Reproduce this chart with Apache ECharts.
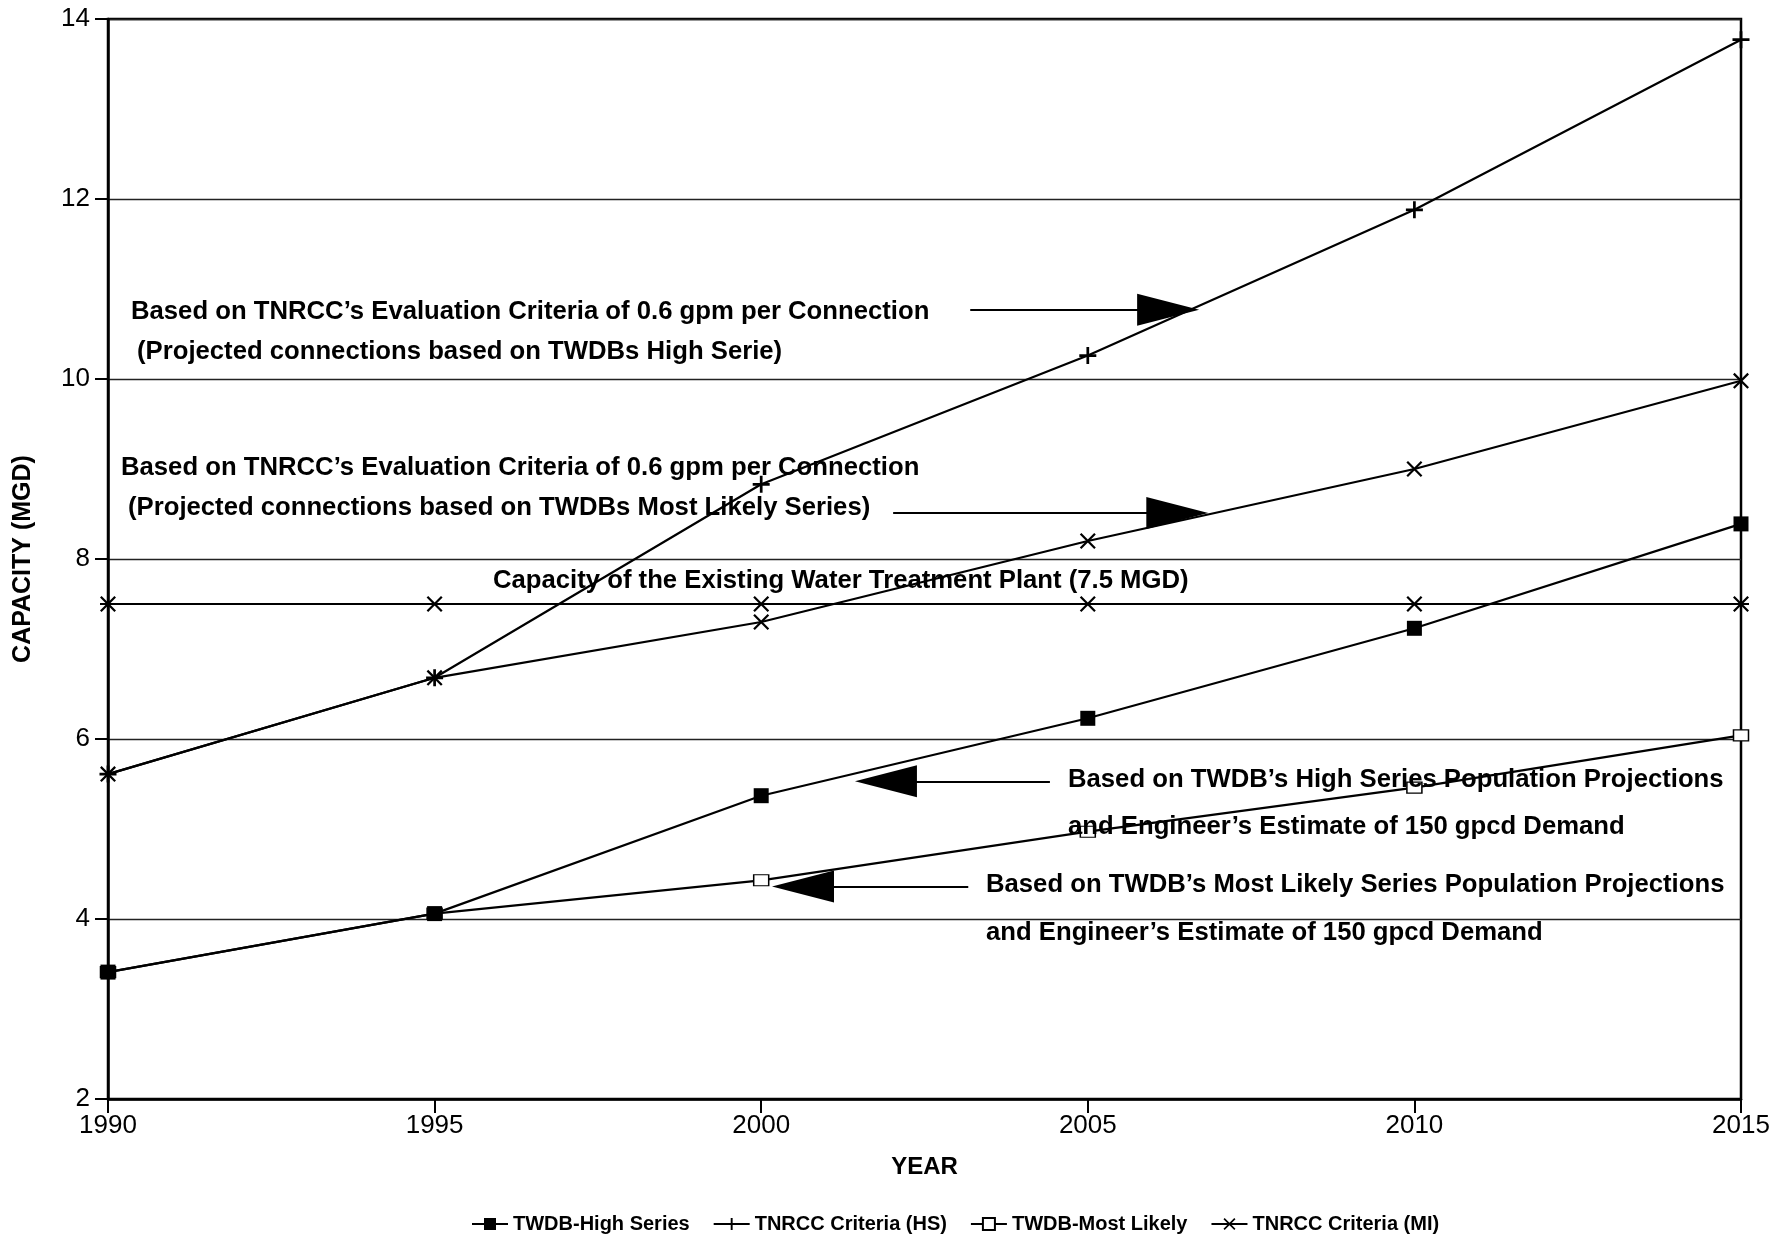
<!DOCTYPE html>
<html>
<head>
<meta charset="utf-8">
<script src="https://cdn.jsdelivr.net/npm/echarts@6/dist/echarts.min.js"></script>
<style>html,body{margin:0;padding:0;background:#fff;}#c{width:1790px;height:1235px;}</style>
</head>
<body>
<div id="c"></div>
<script>
// ---- data ----
var years = [1990, 1995, 2000, 2005, 2010, 2015];
var twdbHigh = [3.41, 4.06, 5.37, 6.23, 7.23, 8.39];
var tnrccHS = [5.61, 6.68, 8.83, 10.26, 11.88, 13.77];
var twdbML = [3.41, 4.06, 4.43, 4.97, 5.46, 6.04];
var tnrccML = [5.61, 6.68, 7.30, 8.20, 9.00, 9.98];
var existingCap = [7.5, 7.5, 7.5, 7.5, 7.5, 7.5];
var seriesNames = ['TWDB-High Series', 'TNRCC Criteria (HS)', 'TWDB-Most Likely', 'TNRCC Criteria (MI)'];
var yTicks = [2, 4, 6, 8, 10, 12, 14];
// annotation arrows: [tail, arrow-head centre] in data units
var arrows = [
  [[2003.20, 10.77], [2006.23, 10.77]],
  [[2002.02, 8.51], [2006.37, 8.51]],
  [[2004.42, 5.53], [2001.91, 5.53]],
  [[2003.17, 4.36], [2000.64, 4.36]]
];
var notes = [
  'Based on TNRCC\u2019s Evaluation Criteria of 0.6 gpm per Connection',
  '(Projected connections based on TWDBs High Serie)',
  'Based on TNRCC\u2019s Evaluation Criteria of 0.6 gpm per Connection',
  '(Projected connections based on TWDBs Most Likely Series)',
  'Capacity of the Existing Water Treatment Plant (7.5 MGD)',
  'Based on TWDB\u2019s High Series Population Projections',
  'and Engineer\u2019s Estimate of 150 gpcd Demand',
  'Based on TWDB\u2019s Most Likely Series Population Projections',
  'and Engineer\u2019s Estimate of 150 gpcd Demand'
];

function pairs(vals) { return years.map(function (y, i) { return [y, vals[i]]; }); }

var FONT = '"Liberation Sans", Arial, sans-serif';
var plusPath = 'path://M4.2,0 L5.8,0 L5.8,4.2 L10,4.2 L10,5.8 L5.8,5.8 L5.8,10 L4.2,10 L4.2,5.8 L0,5.8 L0,4.2 L4.2,4.2 Z';
var xPath = 'path://M0,1 L1,0 L10,9 L9,10 Z M9,0 L10,1 L1,10 L0,9 Z';
var starPath = 'path://M0,1 L1,0 L10,9 L9,10 Z M9,0 L10,1 L1,10 L0,9 Z M0,4.3 L10,4.3 L10,5.7 L0,5.7 Z';

var lineStyle = { color: '#000', width: 2.2 };
function mkSeries(name, vals, symbol, size, itemStyle, z) {
  return {
    name: name, type: 'line', data: pairs(vals), symbol: symbol, symbolSize: size,
    showAllSymbol: true, lineStyle: lineStyle, itemStyle: itemStyle, z: z, animation: false
  };
}

var noteTexts = [
  [131, 312], [137, 352], [121, 468], [128, 508], [493, 581], [1068, 780], [1068, 827], [986, 885], [986, 933]
];

var chart = echarts.init(document.getElementById('c'), null, { renderer: 'canvas' });
var series = [
  mkSeries(seriesNames[0], twdbHigh, 'rect', 15, { color: '#000' }, 6),
  mkSeries(seriesNames[1], tnrccHS, plusPath, 17, { color: '#000' }, 4),
  mkSeries(seriesNames[2], twdbML, 'rect', [15, 11], { color: '#fff', borderColor: '#000', borderWidth: 1.3 }, 3),
  mkSeries(seriesNames[3], tnrccML, xPath, 16, { color: '#000' }, 5),
  mkSeries('Existing Capacity', existingCap, starPath, 16, { color: '#000' }, 3)
];
series.push({
  type: 'line', data: [], silent: true, animation: false,
  markLine: {
    silent: true, animation: false,
    symbol: ['none', 'triangle'], symbolSize: [32, 62],
    label: { show: false },
    lineStyle: { color: '#000', width: 2, type: 'solid' },
    itemStyle: { color: '#000' },
    data: arrows.map(function (a) { return [{ coord: a[0] }, { coord: a[1] }]; })
  }
});

chart.setOption({
  backgroundColor: '#fff',
  animation: false,
  grid: { left: 108, right: 49, top: 19, bottom: 136, show: true, borderColor: '#000', borderWidth: 2.5, backgroundColor: 'transparent' },
  xAxis: {
    type: 'value', min: 1990, max: 2015, interval: 5,
    name: 'YEAR', nameLocation: 'middle', nameGap: 56,
    nameTextStyle: { fontFamily: FONT, fontSize: 24, fontWeight: 'bold', color: '#000' },
    axisLine: { lineStyle: { color: '#000', width: 2.5 } },
    axisTick: { show: true, length: 14, lineStyle: { color: '#000', width: 2 } },
    axisLabel: { fontFamily: FONT, fontSize: 26, color: '#000', margin: 14, formatter: function (v) { return String(v); } },
    splitLine: { show: false }
  },
  yAxis: {
    type: 'value', min: yTicks[0], max: yTicks[yTicks.length - 1], interval: 2,
    name: 'CAPACITY (MGD)', nameLocation: 'middle', nameGap: 72, nameRotate: 90,
    nameTextStyle: { fontFamily: FONT, fontSize: 25, fontWeight: 'bold', color: '#000' },
    axisLine: { lineStyle: { color: '#000', width: 2.5 } },
    axisTick: { show: true, length: 13, lineStyle: { color: '#000', width: 2 } },
    axisLabel: { fontFamily: FONT, fontSize: 26, color: '#000', margin: 18 },
    splitLine: { show: true, lineStyle: { color: '#222', width: 1.4 } }
  },
  legend: {
    data: seriesNames, left: 466, top: 1209, itemWidth: 36, itemHeight: 15, itemGap: 23,
    textStyle: { fontFamily: FONT, fontSize: 20, fontWeight: 'bold', color: '#000' }
  },
  graphic: notes.map(function (t, i) {
    return {
      type: 'text', x: noteTexts[i][0], y: noteTexts[i][1], z: 10, silent: true,
      style: { text: t, font: 'bold 25.7px ' + FONT, fill: '#000', verticalAlign: 'middle', align: 'left' }
    };
  }),
  series: series
});
</script>
</body>
</html>
